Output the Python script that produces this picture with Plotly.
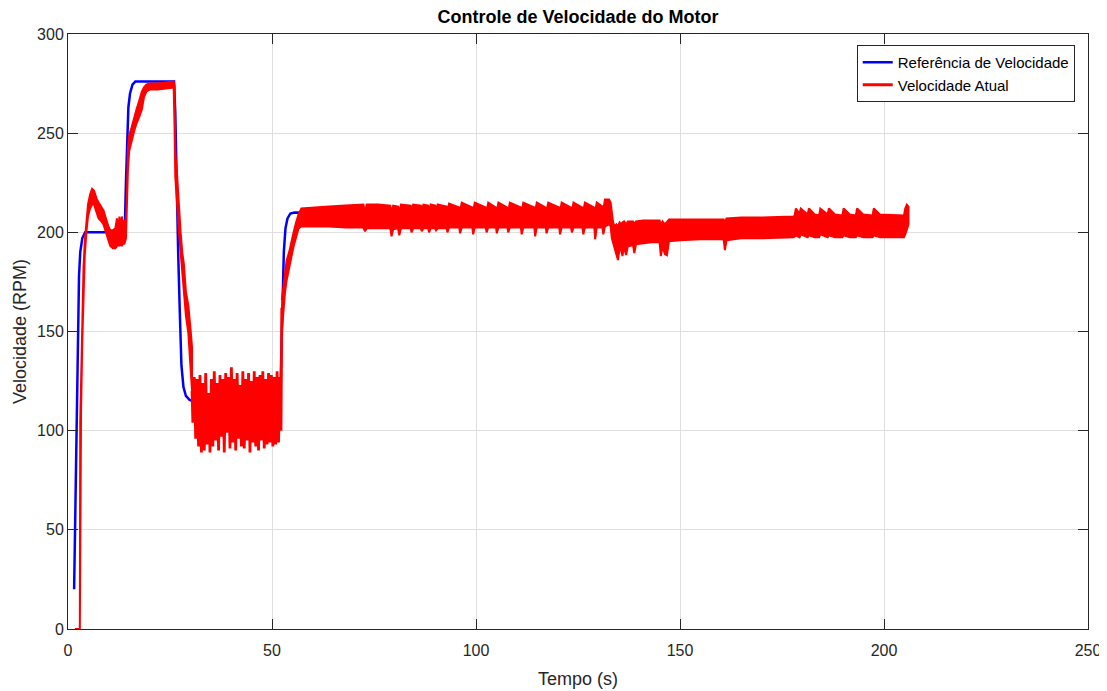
import plotly.graph_objects as go

# ---------------- data ----------------
# Reference speed (blue)
ref_t = [1.5, 1.8, 2.1, 2.4, 2.7, 3.0, 3.5, 4.2, 5.0, 13.9, 14.2, 14.5, 14.8, 15.2, 15.8, 16.5,
         26.0, 26.3, 26.6, 27.0, 27.4, 27.8, 28.3, 28.9, 29.8, 30.5, 52.0, 52.3, 52.6, 52.9, 53.3,
         53.8, 54.5, 55.5, 90.0, 130.0, 133.0, 133.3, 133.7, 134.2, 136.0, 145.0, 160.0, 177.0, 205.8]
ref_v = [20, 60, 110, 150, 178, 190, 197, 200, 200, 200, 225, 250, 263, 270, 274.5, 276,
         276, 260, 225, 190, 160, 133, 122, 117.5, 115.5, 115, 115, 140, 170, 190, 202,
         207, 209.5, 210, 209.5, 208.5, 208, 204, 199, 197, 199, 200, 201, 203, 205]

# Actual speed (red) - first part, upper / lower envelope of the trace
act1_t  = [1.7, 2.9, 3.0, 3.2, 3.5, 3.8, 4.1, 4.5, 4.9, 5.4, 5.9, 6.4, 7.0, 7.5, 8.0, 8.7, 9.3,
           9.9, 10.4, 11.0, 11.6, 12.0, 12.3, 12.6, 12.9, 13.2, 13.5, 13.8, 14.2, 14.4, 14.7,
           15.0, 15.6, 16.2, 16.8, 17.4, 18.1, 18.6, 19.2, 20.0, 22.0, 24.0, 25.9, 26.1, 26.3,
           26.7, 27.2, 27.6, 28.0, 28.4, 28.9, 29.5, 30.0, 30.4]
act1_hi = [0, 0, 105, 125, 160, 182, 195, 205, 214, 219, 222, 221, 217, 215, 213, 211, 207,
           203, 201, 201, 202, 207, 200, 208, 201, 208, 202, 206, 205, 215, 243,
           249, 253, 258, 262, 266, 271, 273, 274.5, 275, 275, 275.5, 276, 274, 240,
           230, 210, 200, 190, 184, 170, 163, 152, 142]
act1_lo = [0, 0, 0, 110, 145, 170, 188, 200, 208, 212, 214, 214, 210, 207, 206, 204, 200,
           196, 193, 192, 192, 193, 194, 193, 195, 193, 195, 194, 197, 205, 232,
           241, 246, 251, 255, 258, 262, 268, 271, 272, 272, 272.5, 273, 255, 228,
           218, 200, 190, 178, 169, 158, 149, 135, 120]

# Actual speed (red) - oscillating section around 115 RPM
osc_t = [30.4, 30.6, 30.95, 31.3, 31.65, 32.0, 32.35, 32.7, 33.05, 33.4, 33.75, 34.1, 34.45,
         34.8, 35.15, 35.5, 35.85, 36.2, 36.55, 36.9, 37.25, 37.6, 37.95, 38.3, 38.65, 39.0,
         39.35, 39.7, 40.05, 40.4, 40.75, 41.1, 41.45, 41.8, 42.15, 42.5, 42.85, 43.2, 43.55,
         43.9, 44.25, 44.6, 44.95, 45.3, 45.65, 46.0, 46.35, 46.7, 47.05, 47.4, 47.75, 48.1,
         48.45, 48.8, 49.15, 49.5, 49.85, 50.2, 50.55, 50.9, 51.25, 51.6, 51.95, 52.2, 52.4]
osc_v = [120, 104, 127, 96, 126, 92, 128, 89, 124, 90, 129, 93, 119, 89, 126, 92, 130, 95,
         124, 90, 128, 97, 126, 89, 129, 99, 127, 91, 132, 94, 126, 90, 129, 96, 123, 92,
         130, 91, 126, 95, 129, 89, 125, 94, 130, 92, 127, 90, 128, 95, 130, 91, 126, 93,
         129, 94, 128, 92, 127, 93, 130, 94, 127, 100, 162]

# Actual speed (red) - second part, upper / lower envelope
act2_t  = [52.4, 52.8, 53.2, 53.6, 54.2, 54.8, 55.3, 55.9, 56.5, 57.2, 60.0, 64.0, 68.0,
           72.4, 72.8, 73.2, 76.0, 79.0, 79.3, 79.7, 80.9, 81.2, 81.6, 84.0, 84.2, 84.6,
           86.5, 86.7, 87.1, 88.3, 88.5, 88.9, 90.0, 90.2, 90.6, 92.8, 93.0, 93.4,
           95.9, 96.1, 96.5, 99.1, 99.3, 99.7, 102.4, 102.6, 103.0, 104.9, 105.1, 105.5,
           107.7, 107.9, 108.3, 111.0, 111.2, 111.6, 114.3, 114.5, 114.9, 117.1, 117.3, 117.7,
           120.4, 120.6, 121.0, 123.3, 123.5, 123.9, 126.1, 126.3, 126.7, 129.0, 129.2, 129.6,
           131.0, 131.2, 131.6, 132.6, 133.0, 133.3, 133.6, 134.0, 134.4, 134.8, 135.2, 135.6,
           135.9, 136.3, 136.8, 137.2, 138.5, 138.8, 139.2, 141.0, 143.0, 145.0, 145.3, 145.7,
           146.3, 146.8, 147.3, 150.0, 155.0, 160.7, 161.0, 161.4, 165.0, 170.0, 177.9,
           178.1, 178.4, 179.3, 179.6, 181.3, 181.6, 183.0, 184.1, 184.4, 186.2, 186.5, 188.0,
           189.8, 190.1, 191.6, 193.1, 193.4, 194.9, 197.2, 197.5, 199.0, 204.9, 205.2,
           205.6, 206.0]
act2_hi = [166, 173, 181, 186, 190, 196, 200, 205, 209, 212, 212.5, 213, 213.5,
           214, 210, 214, 214, 213.5, 209.5, 213.5, 213, 209.5, 214, 213.5, 210, 214,
           213.5, 210, 214, 213.5, 209.5, 214, 213.5, 210, 214, 213, 210.5, 214.5,
           212.5, 210.5, 215, 212.5, 210.5, 215, 212.5, 210.5, 215, 212.5, 210.5, 215,
           212.5, 210.5, 215, 212.5, 210.5, 215, 212.5, 210.5, 215, 212.5, 210.5, 215,
           212.5, 210.5, 215, 212.5, 210.5, 215, 212.5, 210.5, 215, 212.5, 210.5, 215,
           213, 211, 216.5, 216.5, 215, 209, 205, 203, 204, 203, 205, 204,
           205, 205.5, 204, 205.5, 205.5, 204, 205.5, 206, 206, 206, 203.5, 205.5,
           204, 205, 206.5, 206.5, 206.5, 206.5, 205, 207, 207.5, 207.5, 208,
           208.5, 212, 209.5, 212, 209, 212, 209, 208.5, 212, 209, 212, 209,
           208.5, 212, 209, 208.5, 212, 209, 208.5, 212, 209, 208.5, 212,
           214, 213]
act2_lo = [150, 160, 170, 176, 182, 188, 193, 198, 202, 203, 203, 203, 202.5,
           202.5, 200.5, 202, 202, 202, 198, 201.5, 202, 198.5, 202, 202, 200, 202,
           202, 200.5, 202, 202, 200, 202, 202, 201, 202, 202, 200, 202.5,
           202.5, 199.5, 202.5, 202.5, 199, 202.5, 202.5, 200, 202.5, 202.5, 199.5, 202.5,
           202.5, 200, 202.5, 202.5, 199, 202.5, 202.5, 198, 202.5, 202.5, 199.5, 202.5,
           202.5, 199, 202.5, 202.5, 200, 202.5, 202.5, 199, 202.5, 202.5, 196.5, 202.5,
           202.5, 199, 203, 204, 203, 197, 194, 191, 189, 186, 192, 191,
           188, 193, 188.5, 193, 193.5, 189.5, 194, 194.5, 195, 195, 188, 193,
           189, 188.5, 195.5, 196, 196.5, 196.5, 191, 196, 197, 197, 197.5,
           197.5, 198.5, 197.5, 199, 197.5, 198.5, 197.5, 197.5, 199, 197.5, 198.5, 197.5,
           197.5, 198.5, 197.5, 197.5, 198.5, 197.5, 197.5, 198.5, 197.5, 197.5, 199,
           201, 204]

x_ticks = [0, 50, 100, 150, 200, 250]
y_ticks = [0, 50, 100, 150, 200, 250, 300]

title_text = "Controle de Velocidade do Motor"
x_label = "Tempo (s)"
y_label = "Velocidade (RPM)"
name_ref = "Referência de Velocidade"
name_act = "Velocidade Atual"

# ---------------- figure ----------------
RED = "#ff0000"
BLUE = "#0000ff"
FONT = "Liberation Sans, Arial, sans-serif"

# the page body has an 8px margin, so the figure is sized / offset to compensate
W, H = 1099, 683

fig = go.Figure()

fig.add_trace(go.Scatter(x=ref_t, y=ref_v, mode="lines", name=name_ref,
                         line=dict(color=BLUE, width=2.5)))

fig.add_trace(go.Scatter(x=act1_t + act1_t[::-1], y=act1_hi + act1_lo[::-1],
                         mode="lines", fill="toself", fillcolor=RED,
                         line=dict(color=RED, width=2), showlegend=False,
                         hoverinfo="skip"))

fig.add_trace(go.Scatter(x=osc_t, y=osc_v, mode="lines", name=name_act,
                         line=dict(color=RED, width=2.8)))

fig.add_trace(go.Scatter(x=act2_t + act2_t[::-1], y=act2_hi + act2_lo[::-1],
                         mode="lines", fill="toself", fillcolor=RED,
                         line=dict(color=RED, width=2), showlegend=False,
                         hoverinfo="skip"))

axis_common = dict(
    showgrid=True, gridcolor="#dfdfdf", gridwidth=1,
    zeroline=False, showline=True, mirror="ticks",
    ticks="inside", ticklen=10, tickcolor="#262626", tickwidth=1,
    tickfont=dict(family=FONT, size=16, color="#262626"),
    automargin=False,
)

fig.update_layout(
    width=W, height=H,
    paper_bgcolor="white", plot_bgcolor="white",
    margin=dict(l=60, r=19, t=26, b=62),
    font=dict(family=FONT, color="#262626"),
    title=dict(text="<b>" + title_text + "</b>", x=0.5, xref="paper",
               y=1 - 9 / H, yref="container", yanchor="middle", xanchor="center",
               font=dict(family=FONT, size=18, color="black"), automargin=False),
    xaxis=dict(range=[0, 250], tickvals=x_ticks, linecolor="#262626",
               ticklabelstandoff=7,
               title=dict(text=x_label, font=dict(family=FONT, size=18, color="#262626"),
                          standoff=14),
               **axis_common),
    yaxis=dict(range=[0, 300], tickvals=y_ticks, linecolor="#262626",
               title=dict(text=y_label, font=dict(family=FONT, size=18, color="#262626"),
                          standoff=5),
               **axis_common),
    legend=dict(x=0.987, y=0.9815, xanchor="right", yanchor="top",
                bgcolor="white", bordercolor="#262626", borderwidth=1,
                font=dict(family=FONT, size=15, color="black"),
                tracegroupgap=0),
    showlegend=True,
)

fig.write_html("out.html")
